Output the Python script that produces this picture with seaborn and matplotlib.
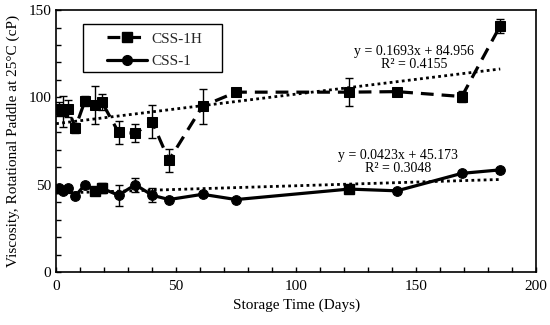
import matplotlib
matplotlib.use("Agg")
import matplotlib.pyplot as plt
import seaborn as sns
import numpy as np
import pandas as pd
from matplotlib.lines import Line2D
from matplotlib.patches import Rectangle
from matplotlib.ticker import MultipleLocator

# ---- data ----
days_1h = [1, 3, 5, 8, 12, 16, 19, 26, 33, 40, 47, 61, 75, 122, 142, 169, 185]
visc_1h = [93.5, 92, 93.5, 82.5, 98, 95.5, 97.5, 80, 79.5, 86, 64, 95, 103, 103, 103.3, 100.5, 141]
err_1h = [4, 9, 5, 3, 3, 11, 4.5, 6.5, 5, 9.5, 6.5, 10, 2, 8, 1, 3, 4]

days_1 = [1, 3, 5, 8, 12, 16, 19, 26, 33, 40, 47, 61, 75, 122, 142, 169, 185]
visc_1 = [48, 46.5, 48, 43.5, 50, 46.5, 48, 44, 50, 44, 41.5, 44.5, 41.5, 47.5, 46.5, 56.5, 58.5]
err_1 = [1, 1, 1, 1, 1, 2, 3, 6, 4, 4, 1, 1, 1, 1, 1, 1, 1]
square_days_1 = [16, 19, 122]

trend_1h = (0.1693, 84.956, 0.4155)
trend_1 = (0.0423, 45.173, 0.3048)
trend_x = [0, 185]

x_ticks = [0, 50, 100, 150, 200]
y_ticks = [0, 50, 100, 150]

sns.set_theme(style="white")
plt.rcParams['font.family'] = ['Liberation Serif', 'DejaVu Serif']
plt.rcParams['mathtext.fontset'] = 'stix'

fig = plt.figure(figsize=(5.5, 3.25), dpi=100)
ax = fig.add_axes([0.102, 0.163, 0.873, 0.806])

df1h = pd.DataFrame({"day": days_1h, "visc": visc_1h})
df1 = pd.DataFrame({"day": days_1, "visc": visc_1})

# error bars
ax.errorbar(days_1h, visc_1h, yerr=err_1h, fmt="none", ecolor="black",
            elinewidth=1.0, capsize=3, capthick=1.0, zorder=2)
ax.errorbar(days_1, visc_1, yerr=err_1, fmt="none", ecolor="black",
            elinewidth=1.0, capsize=3, capthick=1.0, zorder=2)

# trend lines
tx = np.array(trend_x, dtype=float)
ax.plot(tx, trend_1h[0] * tx + trend_1h[1], color="black", linestyle=(0, (1, 1.2)),
        linewidth=2.0, zorder=1)
ax.plot(tx, trend_1[0] * tx + trend_1[1], color="black", linestyle=(0, (1, 1.2)),
        linewidth=2.0, zorder=1)

# series lines
sns.lineplot(data=df1h, x="day", y="visc", ax=ax, color="black", linewidth=2.3,
             marker="s", markersize=7, markeredgecolor="black",
             dashes=False, zorder=3)
ax.lines[-1].set_linestyle((0, (4, 2.5)))
sns.lineplot(data=df1, x="day", y="visc", ax=ax, color="black", linewidth=2.3,
             marker="o", markersize=7, markeredgecolor="black", zorder=3)
# some CSS-1 points drawn with squares
sq = df1[df1["day"].isin(square_days_1)]
ax.plot(sq["day"], sq["visc"], linestyle="none", marker="s", markersize=7,
        color="black", zorder=4)

ax.set_xlim(0, 200)
ax.set_ylim(0, 150)
ax.set_xticks(x_ticks)
ax.set_yticks(y_ticks)
ax.xaxis.set_minor_locator(MultipleLocator(10))
ax.yaxis.set_minor_locator(MultipleLocator(10))
ax.tick_params(which="both", direction="in", length=3.5, width=1.0, color="black",
               top=False, right=False, bottom=True, left=True, labelsize=11,
               labelcolor="black")
ax.tick_params(axis="x", which="major", pad=6)
for s in ax.spines.values():
    s.set_color("black")
    s.set_linewidth(1.2)
    s.set_visible(True)

ax.set_xlabel("Storage Time (Days)", fontsize=11, color="black", labelpad=4)
ax.set_ylabel("Viscosity, Rotational Paddle at 25°C (cP)", fontsize=11,
              color="black", labelpad=6)

ax.text(149, 122.5, f"y = {trend_1h[0]}x + {trend_1h[1]}\nR² = {trend_1h[2]}",
        ha="center", va="center", fontsize=10, linespacing=1.05, color="black")
ax.text(142.5, 63, f"y = {trend_1[0]}x + {trend_1[1]}\nR² = {trend_1[2]}",
        ha="center", va="center", fontsize=10, linespacing=1.05, color="black")

# legend box
ax.add_patch(Rectangle((0.056, 0.763), 0.29, 0.184, transform=ax.transAxes,
                       facecolor="white", edgecolor="black", linewidth=1.0,
                       zorder=5))
handles = [
    Line2D([], [], color="black", linewidth=2.3, linestyle=(0, (4, 2.5)),
           marker="s", markersize=7),
    Line2D([], [], color="black", linewidth=2.3, linestyle="-",
           marker="o", markersize=7),
]
leg = ax.legend(handles, ["CSS-1H", "CSS-1"], loc="upper left",
                bbox_to_anchor=(0.106, 0.916), frameon=False,
                fontsize=11, handlelength=2.6,
                borderpad=0, labelspacing=0.56, handletextpad=0.3,
                borderaxespad=0)
leg.set_zorder(6)

fig.savefig("out.png", dpi=100)
